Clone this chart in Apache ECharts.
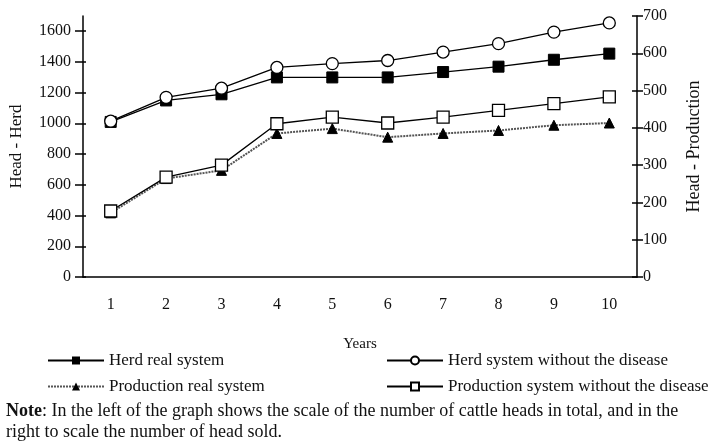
<!DOCTYPE html>
<html>
	<head>
		<meta charset="utf-8" />
		<title></title>
		<script src="https://cdn.jsdelivr.net/npm/echarts@6/dist/echarts.min.js" type="text/javascript" charset="utf-8"></script>
		<style type="text/css">
			html, body { margin: 0; padding: 0; background: #fff; }
			#main { width: 719px; height: 444px; }
		</style>
	</head>
	<body>
		<div id="main"></div>
		<script type="text/javascript">
			var years = ['1', '2', '3', '4', '5', '6', '7', '8', '9', '10'];
			// left scale: total cattle heads
			var herdReal = [1010, 1150, 1190, 1300, 1300, 1300, 1335, 1370, 1415, 1455];
			var herdNoDisease = [1015, 1170, 1230, 1365, 1390, 1410, 1465, 1520, 1595, 1655];
			// right scale: heads sold
			var prodReal = [172, 264, 286, 385, 398, 375, 385, 393, 407, 413];
			var prodNoDisease = [177, 268, 300, 411, 429, 413, 429, 447, 465, 483];

			var font = 'Liberation Serif';
			var ink = '#111';
			var plain = function (v) { return String(v); };

			var myChart = echarts.init(document.getElementById('main'));
			var option = {
				animation: false,
				backgroundColor: '#fff',
				title: {
					left: 1,
					top: 396,
					text: '{b|Note}: In the left of the graph shows the scale of the number of cattle heads in total, and in the\nright to scale the number of head sold.',
					textStyle: {
						fontFamily: font,
						fontSize: 18,
						fontWeight: 'normal',
						color: ink,
						lineHeight: 21,
						rich: {
							b: { fontFamily: font, fontSize: 18, fontWeight: 'bold', color: ink }
						}
					}
				},
				legend: [{
					data: ['Herd real system', 'Production real system'],
					orient: 'vertical',
					left: 42,
					top: 347,
					itemWidth: 56,
					itemHeight: 10,
					itemGap: 9,
					textStyle: { fontFamily: font, fontSize: 17, color: ink }
				}, {
					data: ['Herd system without the disease', 'Production system without the disease'],
					orient: 'vertical',
					left: 381,
					top: 347,
					itemWidth: 56,
					itemHeight: 10,
					itemGap: 9,
					textStyle: { fontFamily: font, fontSize: 17, color: ink }
				}],
				grid: [
					{ left: 81, right: 82, top: 16, bottom: 167 },
					{ left: 81, right: 82, top: 31, bottom: 167 } //carries the 0-1600 tick labels
				],
				xAxis: [{
					type: 'category',
					gridIndex: 0,
					data: years,
					boundaryGap: true,
					name: 'Years',
					nameLocation: 'middle',
					nameGap: 60,
					nameTextStyle: { fontFamily: font, fontSize: 15, color: ink },
					axisLine: { lineStyle: { color: '#000', width: 1.5 } },
					axisTick: { length: 6, lineStyle: { color: '#000', width: 1.5 } },
					axisLabel: { margin: 20, fontFamily: font, fontSize: 16, color: ink },
					splitLine: { show: false }
				}, {
					type: 'category',
					gridIndex: 0,
					data: years,
					position: 'bottom',
					axisLine: { show: false },
					axisTick: { inside: true, length: 4, lineStyle: { color: '#000', width: 1.5 } },
					axisLabel: { show: false },
					splitLine: { show: false }
				}, {
					type: 'category',
					gridIndex: 1,
					data: years,
					show: false
				}],
				yAxis: [{
					type: 'value',
					gridIndex: 0,
					position: 'left',
					min: 0,
					max: 1700,
					name: 'Head - Herd',
					nameLocation: 'middle',
					nameGap: 58,
					nameTextStyle: { fontFamily: font, fontSize: 17, color: ink },
					axisLine: { show: true, lineStyle: { color: '#000', width: 1.5 } },
					axisTick: { show: false },
					axisLabel: { show: false },
					splitLine: { show: false }
				}, {
					type: 'value',
					gridIndex: 1,
					position: 'left',
					min: 0,
					max: 1600,
					interval: 200,
					axisLine: { show: false },
					axisTick: { show: true, length: 6, lineStyle: { color: '#000', width: 1.5 } },
					axisLabel: { margin: 10, fontFamily: font, fontSize: 16, color: ink, formatter: plain },
					splitLine: { show: false }
				}, {
					type: 'value',
					gridIndex: 1,
					position: 'left',
					min: 0,
					max: 1600,
					interval: 200,
					axisLine: { show: false },
					axisTick: { show: true, inside: true, length: 5, lineStyle: { color: '#000', width: 1.5 } },
					axisLabel: { show: false },
					splitLine: { show: false }
				}, {
					type: 'value',
					gridIndex: 0,
					position: 'right',
					min: 0,
					max: 700,
					interval: 100,
					name: 'Head - Production',
					nameLocation: 'middle',
					nameGap: 48,
					nameRotate: 90,
					nameTextStyle: { fontFamily: font, fontSize: 18, color: ink },
					axisLine: { show: true, lineStyle: { color: '#000', width: 1.5 } },
					axisTick: { show: true, length: 6, lineStyle: { color: '#000', width: 1.5 } },
					axisLabel: { margin: 6, fontFamily: font, fontSize: 16, color: ink, formatter: plain },
					splitLine: { show: false }
				}, {
					type: 'value',
					gridIndex: 0,
					position: 'right',
					min: 0,
					max: 700,
					interval: 100,
					axisLine: { show: false },
					axisTick: { show: true, inside: true, length: 5, lineStyle: { color: '#000', width: 1.5 } },
					axisLabel: { show: false },
					splitLine: { show: false }
				}],
				series: [{
					name: 'Herd real system',
					type: 'line',
					xAxisIndex: 0,
					yAxisIndex: 0,
					data: herdReal,
					symbol: 'rect',
					symbolSize: 11,
					itemStyle: { color: '#000', borderColor: '#000' },
					lineStyle: { color: '#000', width: 1.3 }
				}, {
					name: 'Herd system without the disease',
					type: 'line',
					xAxisIndex: 0,
					yAxisIndex: 0,
					data: herdNoDisease,
					symbol: 'circle',
					symbolSize: 12,
					itemStyle: { color: '#fff', borderColor: '#000', borderWidth: 1.3 },
					lineStyle: { color: '#000', width: 1.3 }
				}, {
					name: 'Production real system',
					type: 'line',
					xAxisIndex: 0,
					yAxisIndex: 3,
					data: prodReal,
					symbol: 'triangle',
					symbolSize: 10,
					itemStyle: { color: '#000', borderColor: '#000' },
					lineStyle: { color: '#555', width: 2, type: [2, 1] }
				}, {
					name: 'Production system without the disease',
					type: 'line',
					xAxisIndex: 0,
					yAxisIndex: 3,
					data: prodNoDisease,
					symbol: 'rect',
					symbolSize: 12,
					itemStyle: { color: '#fff', borderColor: '#000', borderWidth: 1.3 },
					lineStyle: { color: '#000', width: 1.3 }
				}]
			};
			myChart.setOption(option);
		</script>
	</body>
</html>
